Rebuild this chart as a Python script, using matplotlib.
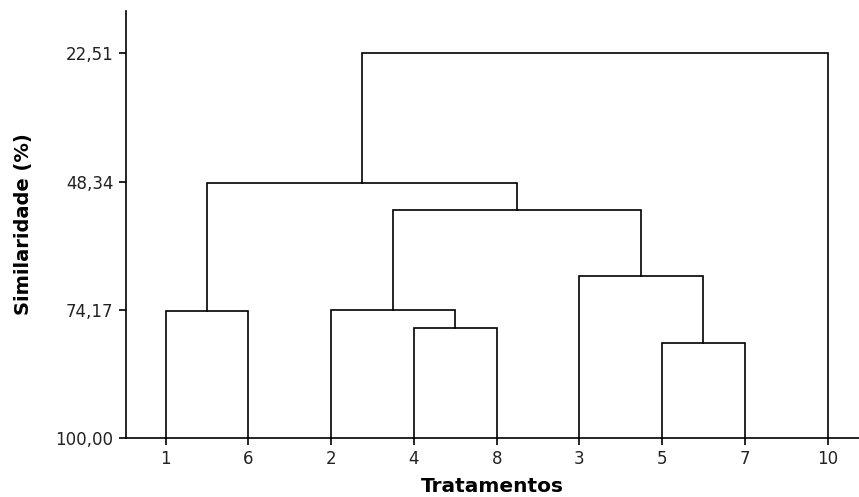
import matplotlib
matplotlib.use("Agg")
import matplotlib.pyplot as plt

# Leaf labels in dendrogram order
leaf_labels = ['1', '6', '2', '4', '8', '3', '5', '7', '10']
# Merges: (left child, right child, similarity %). Children are leaf labels or merge names.
merge_names = ['A', 'B', 'C', 'D', 'E', 'F', 'G', 'H']
merge_left = ['1', '4', '2', '5', '3', 'C', 'A', 'G']
merge_right = ['6', '8', 'B', '7', 'D', 'E', 'F', '10']
merge_sim = [74.45, 77.75, 74.17, 80.83, 67.3, 54.06, 48.6, 22.51]

y_ticks = [22.51, 48.34, 74.17, 100.00]
y_tick_labels = ['22,51', '48,34', '74,17', '100,00']

fig = plt.figure(figsize=(8.59, 4.97), dpi=100)
ax = fig.add_axes([126 / 859, 1 - 438 / 497, 1 - 126 / 859, (438 - 11) / 497])

pos = {lab: i + 1 for i, lab in enumerate(leaf_labels)}
height = {lab: 100.0 for lab in leaf_labels}
lw = 1.2
for name, l, r, s in zip(merge_names, merge_left, merge_right, merge_sim):
    xl, xr = pos[l], pos[r]
    ax.plot([xl, xl, xr, xr], [height[l], s, s, height[r]], color='black', lw=lw,
            solid_joinstyle='miter', clip_on=False)
    pos[name] = (xl + xr) / 2
    height[name] = s

ax.set_xlim(0.52, 9.38)
ax.set_ylim(100, 14.0)
ax.set_xticks(range(1, len(leaf_labels) + 1))
ax.set_xticklabels(leaf_labels)
ax.set_yticks(y_ticks)
ax.set_yticklabels(y_tick_labels)
for side in ['top', 'right']:
    ax.spines[side].set_visible(False)
for side in ['left', 'bottom']:
    ax.spines[side].set_linewidth(1.2)
ax.tick_params(axis='both', direction='out', length=5, width=1.2, labelsize=12,
               colors='#222222', pad=4)
ax.tick_params(axis='both', color='black')
ax.set_xlabel('Tratamentos', fontsize=14.5, fontweight='bold', labelpad=6)
ax.set_ylabel('Similaridade (%)', fontsize=14, fontweight='bold', labelpad=16)

fig.savefig('out.png', dpi=100)
